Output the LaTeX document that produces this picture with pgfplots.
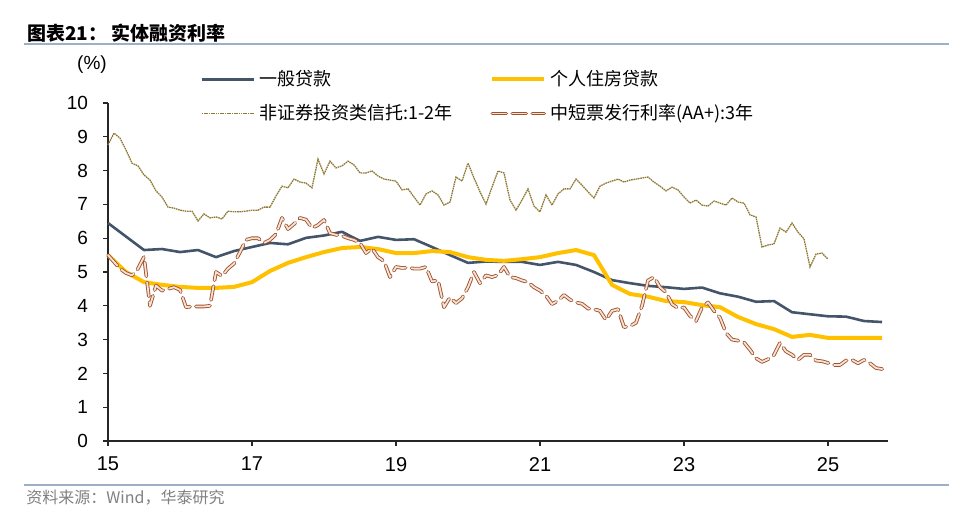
\documentclass[border=0pt]{standalone}
\usepackage{fontspec}
\usepackage{pgfplots}
\usepackage{pgfplotstable}
\pgfplotsset{compat=1.18}
\setmainfont{Liberation Sans}
\newfontfamily\cjk{Noto Sans CJK SC}

\definecolor{loanC}{HTML}{44546A}
\definecolor{houseC}{HTML}{FFC000}
\definecolor{trustC}{HTML}{8F7A35}
\definecolor{mtnC}{HTML}{A0522D}
\definecolor{mtnIn}{HTML}{F6E2D4}
\definecolor{ruleC}{HTML}{9DB0C8}
\definecolor{srcC}{HTML}{808080}

% x = months since Jan 2015; quarterly series every 3 months
\pgfplotstableread{
m v
0 6.45
3 6.05
6 5.65
9 5.68
12 5.59
15 5.65
18 5.44
21 5.62
24 5.74
27 5.86
30 5.82
33 6.01
36 6.08
39 6.19
42 5.92
45 6.04
48 5.95
51 5.97
54 5.74
57 5.50
60 5.27
63 5.31
66 5.30
69 5.30
72 5.21
75 5.30
78 5.21
81 5.00
84 4.76
87 4.67
90 4.59
93 4.55
96 4.50
99 4.54
102 4.37
105 4.27
108 4.12
111 4.14
114 3.81
117 3.75
120 3.69
123 3.68
126 3.55
129 3.52
}\loan

\pgfplotstableread{
m v
0 5.50
3 5.00
6 4.70
9 4.62
12 4.56
15 4.53
18 4.53
21 4.56
24 4.70
27 5.03
30 5.27
33 5.44
36 5.59
39 5.71
42 5.74
45 5.68
48 5.56
51 5.56
54 5.62
57 5.59
60 5.44
63 5.36
66 5.33
69 5.38
72 5.44
75 5.56
78 5.65
81 5.50
84 4.62
87 4.35
90 4.27
93 4.14
96 4.11
99 4.02
102 3.96
105 3.67
108 3.46
111 3.31
114 3.08
117 3.14
120 3.05
123 3.05
126 3.05
129 3.05
}\house

\pgfplotstableread{
m v
0 8.76
1 9.11
2 8.96
3 8.61
4 8.22
5 8.14
6 7.87
7 7.72
8 7.40
9 7.22
10 6.92
11 6.89
12 6.83
13 6.80
14 6.80
15 6.51
16 6.72
17 6.60
18 6.63
19 6.57
20 6.80
21 6.78
22 6.78
23 6.80
24 6.83
25 6.83
26 6.92
27 6.92
28 7.25
29 7.54
30 7.49
31 7.75
32 7.66
33 7.63
34 7.49
35 8.34
36 7.90
37 8.28
38 8.08
39 8.14
40 8.28
41 8.17
42 7.93
43 7.93
44 7.99
45 7.84
46 7.75
47 7.72
48 7.69
49 7.43
50 7.46
51 7.22
52 6.98
53 7.31
54 7.40
55 7.28
56 6.98
57 7.07
58 7.81
59 7.69
60 8.22
61 7.78
62 7.37
63 7.01
64 7.51
65 7.99
66 7.93
67 7.13
68 6.83
69 7.13
70 7.46
71 6.95
72 6.78
73 7.28
74 6.98
75 7.31
76 7.46
77 7.46
78 7.75
79 7.57
80 7.37
81 7.19
82 7.54
83 7.63
84 7.69
85 7.75
86 7.66
87 7.72
88 7.75
89 7.78
90 7.81
91 7.66
92 7.54
93 7.40
94 7.51
95 7.43
96 7.22
97 7.04
98 7.13
99 6.98
100 6.95
101 7.10
102 7.04
103 6.98
104 7.19
105 7.07
106 7.04
107 6.69
108 6.63
109 5.74
110 5.80
111 5.83
112 6.30
113 6.18
114 6.45
115 6.18
116 5.98
117 5.15
118 5.53
119 5.56
120 5.38
}\trust

\pgfplotstableread{
m v
0 5.50
1 5.30
2 5.10
3 4.97
4 4.90
5 5.10
6 5.45
7 4.00
8 4.60
9 4.45
10 4.50
11 4.55
12 4.47
13 3.96
14 3.98
15 3.98
16 3.98
17 4.00
18 5.00
19 4.88
20 5.10
21 5.25
22 5.59
23 5.95
24 6.00
25 6.00
26 5.86
27 5.95
28 6.12
29 6.60
30 6.27
31 6.42
32 6.60
33 6.55
34 6.30
35 6.39
36 6.54
37 6.15
38 6.10
39 6.07
40 6.00
41 5.95
42 5.86
43 5.56
44 5.70
45 5.44
46 5.32
47 4.85
48 5.15
49 5.12
50 5.13
51 5.10
52 5.10
53 5.15
54 4.72
55 4.76
56 3.96
57 4.25
58 4.08
59 4.22
60 4.55
61 5.00
62 4.67
63 4.90
64 4.85
65 4.91
66 5.15
67 4.85
68 4.82
69 4.75
70 4.70
71 4.55
72 4.45
73 4.30
74 4.05
75 4.15
76 4.32
77 4.18
78 4.10
79 4.06
80 3.92
81 3.90
82 3.85
83 3.58
84 3.85
85 3.90
86 3.37
87 3.40
88 3.50
89 4.00
90 4.75
91 4.85
92 4.55
93 4.40
94 4.05
95 3.93
96 3.95
97 3.70
98 3.55
99 3.95
100 4.10
101 3.85
102 3.65
103 3.20
104 3.00
105 2.97
106 2.92
107 2.70
108 2.45
109 2.34
110 2.42
111 2.55
112 2.90
113 2.65
114 2.55
115 2.40
116 2.55
117 2.55
118 2.38
119 2.36
120 2.31
121 2.25
122 2.25
123 2.38
124 2.40
125 2.30
126 2.40
127 2.30
128 2.16
129 2.13
130 2.10
}\mtn

\begin{document}
\begin{tikzpicture}
\useasboundingbox (-54pt,-37.5pt) rectangle (435pt,220.5pt);
\begin{axis}[
  at={(0,0)}, anchor=south west,
  scale only axis, width=390pt, height=169pt,
  xmin=0, xmax=130, ymin=0, ymax=10,
  axis x line*=bottom, axis y line*=left,
  axis line style={-, line width=0.7pt, black!85},
  xtick={0,24,...,120}, xticklabels={15,17,19,21,23,25},
  ytick={0,1,...,10},
  tick align=outside, major tick length=2.5pt,
  tick style={line width=0.6pt, black!85},
  /pgf/number format/assume math mode=true,
  xticklabel style={font=\fontsize{10}{12}\selectfont, yshift=-2pt},
  yticklabel style={font=\fontsize{9.5}{11}\selectfont, xshift=-4pt},
  clip=false,
  legend columns=2,
  legend style={draw=none, fill=none, at={(rel axis cs:0.118,1.11)}, anchor=north west,
    font=\cjk\fontsize{9}{10}\selectfont, row sep=4pt, inner sep=0pt,
    /tikz/every even column/.append style={column sep=17pt}},
  legend image code/.code={\draw[#1] (0pt,0pt) -- (26pt,0pt);},
  legend cell align=left,
]
\addplot[color=loanC, line width=1.3pt, line join=round] table[x=m,y=v]{\loan};
\addlegendentry{一般贷款}
\addplot[color=houseC, line width=2pt, line join=round] table[x=m,y=v]{\house};
\addlegendentry{个人住房贷款}
\addplot[color=trustC, line width=0.65pt, dash pattern=on 0.8pt off 0.35pt] table[x=m,y=v]{\trust};
\addlegendentry{非证券投资类信托:1-2年}
\addplot[draw=mtnC, line width=0.45pt, double=mtnIn, double distance=0.9pt,
  dash pattern=on 7pt off 3pt, line cap=round, line join=round] table[x=m,y=v]{\mtn};
\addlegendentry{中短票发行利率(AA+):3年}
\end{axis}
% heading, unit and source
\node[anchor=west, inner sep=0pt, font=\cjk\bfseries\fontsize{9.5}{11}\selectfont] at (-40.5pt,204pt) {图表21：\ 实体融资利率};
\draw[ruleC, line width=1pt] (-42pt,198.5pt) -- (420.5pt,198.5pt);
\node[inner sep=0pt, font=\fontsize{9.5}{11}\selectfont] at (-8pt,188pt) {(\%)};
\draw[ruleC, line width=1pt] (-42pt,-22pt) -- (420.5pt,-22pt);
\node[anchor=west, inner sep=0pt, text=srcC, font=\cjk\fontsize{8}{10}\selectfont] at (-41pt,-28.5pt) {资料来源：Wind，华泰研究};
\end{tikzpicture}
\end{document}
